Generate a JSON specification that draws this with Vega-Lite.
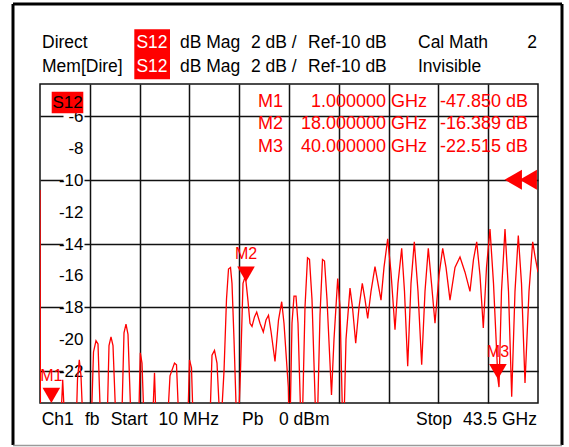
{
"$schema": "https://vega.github.io/schema/vega-lite/v6.json",
"width": 498, "height": 319,
"autosize": {"type": "none"},
"padding": {"left": 40, "top": 84, "right": 31, "bottom": 44},
"background": "white",
"config": {"font": "Liberation Sans", "view": {"stroke": "#111", "strokeWidth": 1.5}},
"datasets": {
"trace": [
{"f":0.010,"db":-10.65},{"f":0.062,"db":-30},{"f":1.0,"db":-47.85},{"f":1.713,"db":-27},{"f":1.992,"db":-22.55},{"f":2.281,"db":-27},
{"f":3.110,"db":-27},{"f":3.285,"db":-22.5},{"f":3.442,"db":-21.3},{"f":3.590,"db":-22.3},{"f":3.852,"db":-27},
{"f":4.420,"db":-27},{"f":4.682,"db":-20.8},{"f":4.900,"db":-20.1},{"f":5.075,"db":-20.3},{"f":5.381,"db":-27},
{"f":5.817,"db":-27},{"f":6.036,"db":-20.4},{"f":6.210,"db":-19.85},{"f":6.385,"db":-20.4},{"f":6.734,"db":-27},
{"f":7.084,"db":-27},{"f":7.346,"db":-19.6},{"f":7.520,"db":-19.05},{"f":7.695,"db":-19.7},{"f":8.044,"db":-27},
{"f":8.568,"db":-27},{"f":8.769,"db":-20.85},{"f":8.918,"db":-21.5},{"f":9.180,"db":-27},
{"f":9.747,"db":-27},{"f":10.009,"db":-22.1},{"f":10.227,"db":-27},
{"f":11.013,"db":-27},{"f":11.363,"db":-22.3},{"f":11.756,"db":-21.5},{"f":11.930,"db":-21.6},{"f":12.236,"db":-27},
{"f":12.847,"db":-27},{"f":13.066,"db":-21.3},{"f":13.240,"db":-21.8},{"f":13.459,"db":-27},
{"f":14.769,"db":-27},{"f":15.031,"db":-21.0},{"f":15.249,"db":-20.7},{"f":15.467,"db":-21.5},{"f":15.773,"db":-26},
{"f":16.079,"db":-22},{"f":16.297,"db":-17.5},{"f":16.472,"db":-15.6},{"f":16.646,"db":-15.5},{"f":16.777,"db":-16.5},{"f":16.952,"db":-20},{"f":17.257,"db":-27},
{"f":17.519,"db":-22},{"f":17.738,"db":-16.5},{"f":17.912,"db":-16.1},{"f":18.0,"db":-16.389},{"f":18.174,"db":-17.6},{"f":18.349,"db":-19.0},
{"f":18.524,"db":-19.2},{"f":18.742,"db":-18.6},{"f":18.934,"db":-18.3},{"f":19.222,"db":-19.0},{"f":19.511,"db":-19.55},{"f":19.746,"db":-18.8},
{"f":19.965,"db":-18.5},{"f":20.183,"db":-19.5},{"f":20.532,"db":-21.4},{"f":20.838,"db":-18.8},{"f":21.117,"db":-17.65},{"f":21.318,"db":-19},
{"f":21.694,"db":-23},{"f":21.799,"db":-27},{"f":22.017,"db":-19},{"f":22.192,"db":-17.3},{"f":22.366,"db":-17.3},{"f":22.541,"db":-19},
{"f":22.864,"db":-27},{"f":23.152,"db":-18},{"f":23.371,"db":-14.9},{"f":23.545,"db":-15.0},{"f":23.763,"db":-17.5},{"f":24.174,"db":-27},
{"f":24.462,"db":-18.5},{"f":24.680,"db":-15.0},{"f":24.855,"db":-15.1},{"f":25.073,"db":-17.5},{"f":25.466,"db":-23.5},{"f":25.685,"db":-20},
{"f":26.008,"db":-16.2},{"f":26.209,"db":-18},{"f":26.497,"db":-27},{"f":26.733,"db":-20},{"f":27.082,"db":-16.8},{"f":27.300,"db":-18},
{"f":27.580,"db":-20.25},{"f":27.868,"db":-18},{"f":28.156,"db":-16.5},{"f":28.392,"db":-17.5},{"f":28.628,"db":-18.7},{"f":28.916,"db":-17},
{"f":29.265,"db":-15.45},{"f":29.527,"db":-16.5},{"f":29.789,"db":-17.55},{"f":30.051,"db":-15.5},{"f":30.374,"db":-13.7},{"f":30.662,"db":-15.8},
{"f":31.012,"db":-19.4},{"f":31.274,"db":-16.5},{"f":31.597,"db":-14.3},{"f":31.841,"db":-17},{"f":32.121,"db":-21.7},{"f":32.409,"db":-16.5},
{"f":32.697,"db":-13.9},{"f":33.020,"db":-17},{"f":33.343,"db":-21.6},{"f":33.632,"db":-17},{"f":33.920,"db":-14.3},{"f":34.199,"db":-16.5},
{"f":34.505,"db":-19.0},{"f":34.854,"db":-16},{"f":35.178,"db":-14.3},{"f":35.466,"db":-15.5},{"f":35.815,"db":-17.55},{"f":36.252,"db":-15.5},
{"f":36.688,"db":-14.85},{"f":37.125,"db":-15.8},{"f":37.561,"db":-17.0},{"f":37.867,"db":-15},{"f":38.147,"db":-13.9},{"f":38.435,"db":-16},
{"f":38.723,"db":-19.3},{"f":39.003,"db":-15.5},{"f":39.308,"db":-13.1},{"f":39.614,"db":-16.5},{"f":40.0,"db":-22.515},{"f":40.094,"db":-23.0},
{"f":40.312,"db":-17},{"f":40.618,"db":-13.1},{"f":40.924,"db":-17},{"f":41.203,"db":-23.6},{"f":41.491,"db":-17},{"f":41.780,"db":-13.5},
{"f":42.059,"db":-16.5},{"f":42.365,"db":-22.75},{"f":42.714,"db":-17},{"f":43.037,"db":-13.9},{"f":43.238,"db":-14.8},{"f":43.5,"db":-15.8}
],
"markers": [{"m":"M1","f":1.0,"v":-47.85},{"m":"M2","f":18.0,"v":-16.389},{"m":"M3","f":40.0,"v":-22.515}],
"ticks": [{"t":-6,"s":"-6"},{"t":-8,"s":"-8"},{"t":-10,"s":"-10"},{"t":-12,"s":"-12"},{"t":-14,"s":"-14"},{"t":-16,"s":"-16"},{"t":-18,"s":"-18"},{"t":-20,"s":"-20"},{"t":-22,"s":"-22"}]
},
"layer": [
{"layer": [
 {"data": {"name": "ticks"}, "mark": {"type": "text", "align": "right", "baseline": "middle", "fontSize": 17, "color": "#000", "dy": 1},
  "encoding": {"x": {"datum": 3.809, "type": "quantitative"}, "y": {"field": "t", "type": "quantitative"}, "text": {"field": "s"}}},
 {"data": {"name": "trace"},
  "mark": {"type": "line", "color": "#ff0000", "strokeWidth": 1.3, "clip": true},
  "encoding": {
   "x": {"field": "f", "type": "quantitative", "scale": {"domain": [0.01, 43.5], "nice": false, "zero": false},
         "axis": {"values": [4.359, 8.708, 13.057, 17.406, 21.755, 26.104, 30.453, 34.802, 39.151], "grid": true, "gridColor": "#111", "gridWidth": 1.5, "domain": false, "ticks": false, "labels": false, "title": null}},
   "y": {"field": "db", "type": "quantitative", "scale": {"domain": [-24, -4], "nice": false, "zero": false},
         "axis": {"values": [-6, -8, -10, -12, -14, -16, -18, -20, -22], "grid": true, "gridColor": "#111", "gridWidth": 1.5, "gridDash": [23, 21, 1000], "domain": false, "ticks": false, "labels": false, "title": null}}
  }},
 {"data": {"values": [{}]}, "mark": {"type": "rect", "color": "#ff0000"},
  "encoding": {"x": {"datum": 1.032, "type": "quantitative"}, "x2": {"datum": 3.791}, "y": {"datum": -4.483, "type": "quantitative"}, "y2": {"datum": -5.837}}},
 {"data": {"values": [{}]}, "mark": {"type": "text", "align": "center", "baseline": "middle", "fontSize": 17, "color": "#000"},
  "encoding": {"x": {"datum": 2.412, "type": "quantitative"}, "y": {"datum": -5.16, "type": "quantitative"}, "text": {"value": "S12"}}},
 {"data": {"values": [{}]}, "mark": {"type": "text", "align": "right", "baseline": "middle", "fontSize": 18, "color": "#ff0000", "lineHeight": 22.5},
  "encoding": {"x": {"datum": 21.231, "type": "quantitative"}, "y": {"datum": -5.11, "type": "quantitative"}, "text": {"value": ["M1", "M2", "M3"]}}},
 {"data": {"values": [{}]}, "mark": {"type": "text", "align": "right", "baseline": "middle", "fontSize": 18, "color": "#ff0000", "lineHeight": 22.5},
  "encoding": {"x": {"datum": 33.806, "type": "quantitative"}, "y": {"datum": -5.11, "type": "quantitative"}, "text": {"value": ["1.000000 GHz", "18.000000 GHz", "40.000000 GHz"]}}},
 {"data": {"values": [{}]}, "mark": {"type": "text", "align": "right", "baseline": "middle", "fontSize": 18, "color": "#ff0000", "lineHeight": 22.5},
  "encoding": {"x": {"datum": 42.627, "type": "quantitative"}, "y": {"datum": -5.11, "type": "quantitative"}, "text": {"value": ["-47.850 dB", "-16.389 dB", "-22.515 dB"]}}},
 {"data": {"values": [{}]}, "mark": {"type": "point", "shape": "triangle-left", "filled": true, "color": "#ff0000", "opacity": 1, "size": 400},
  "encoding": {"x": {"datum": 41.343, "type": "quantitative"}, "y": {"datum": -10, "type": "quantitative"}}},
 {"data": {"values": [{}]}, "mark": {"type": "point", "shape": "triangle-left", "filled": true, "color": "#ff0000", "opacity": 1, "size": 400},
  "encoding": {"x": {"datum": 42.653, "type": "quantitative"}, "y": {"datum": -10, "type": "quantitative"}}},
 {"data": {"values": [{}]}, "mark": {"type": "rect", "color": "#ff0000"},
  "encoding": {"x": {"datum": 8.245, "type": "quantitative"}, "x2": {"datum": 11.363}, "y": {"datum": -0.57, "type": "quantitative"}, "y2": {"datum": -3.705}}},
 {"data": {"values": [{}]}, "mark": {"type": "text", "align": "left", "baseline": "middle", "fontSize": 17.5, "color": "#000", "lineHeight": 24},
  "encoding": {"x": {"datum": 0.185, "type": "quantitative"}, "y": {"datum": -1.411, "type": "quantitative"}, "text": {"value": ["Direct", "Mem[Dire]"]}}},
 {"data": {"values": [{}]}, "mark": {"type": "text", "align": "center", "baseline": "middle", "fontSize": 17.5, "color": "#fff", "lineHeight": 24},
  "encoding": {"x": {"datum": 9.791, "type": "quantitative"}, "y": {"datum": -1.411, "type": "quantitative"}, "text": {"value": ["S12", "S12"]}}},
 {"data": {"values": [{}]}, "mark": {"type": "text", "align": "left", "baseline": "middle", "fontSize": 17.5, "color": "#000", "lineHeight": 24},
  "encoding": {"x": {"datum": 12.236, "type": "quantitative"}, "y": {"datum": -1.411, "type": "quantitative"}, "text": {"value": ["dB Mag", "dB Mag"]}}},
 {"data": {"values": [{}]}, "mark": {"type": "text", "align": "left", "baseline": "middle", "fontSize": 17.5, "color": "#000", "lineHeight": 24},
  "encoding": {"x": {"datum": 18.436, "type": "quantitative"}, "y": {"datum": -1.411, "type": "quantitative"}, "text": {"value": ["2 dB /", "2 dB /"]}}},
 {"data": {"values": [{}]}, "mark": {"type": "text", "align": "left", "baseline": "middle", "fontSize": 17.5, "color": "#000", "lineHeight": 24},
  "encoding": {"x": {"datum": 23.414, "type": "quantitative"}, "y": {"datum": -1.411, "type": "quantitative"}, "text": {"value": ["Ref-10 dB", "Ref-10 dB"]}}},
 {"data": {"values": [{}]}, "mark": {"type": "text", "align": "left", "baseline": "middle", "fontSize": 17.5, "color": "#000", "lineHeight": 24},
  "encoding": {"x": {"datum": 33.02, "type": "quantitative"}, "y": {"datum": -1.411, "type": "quantitative"}, "text": {"value": ["Cal Math", "Invisible"]}}},
 {"data": {"values": [{}]}, "mark": {"type": "text", "align": "right", "baseline": "middle", "fontSize": 17.5, "color": "#000"},
  "encoding": {"x": {"datum": 43.413, "type": "quantitative"}, "y": {"datum": -1.411, "type": "quantitative"}, "text": {"value": "2"}}},
 {"data": {"values": [{}]}, "mark": {"type": "text", "align": "left", "baseline": "middle", "fontSize": 17.5, "color": "#000"},
  "encoding": {"x": {"datum": 0.158, "type": "quantitative"}, "y": {"datum": -25.066, "type": "quantitative"}, "text": {"value": "Ch1"}}},
 {"data": {"values": [{}]}, "mark": {"type": "text", "align": "left", "baseline": "middle", "fontSize": 17.5, "color": "#000"},
  "encoding": {"x": {"datum": 3.94, "type": "quantitative"}, "y": {"datum": -25.066, "type": "quantitative"}, "text": {"value": "fb"}}},
 {"data": {"values": [{}]}, "mark": {"type": "text", "align": "left", "baseline": "middle", "fontSize": 17.5, "color": "#000"},
  "encoding": {"x": {"datum": 6.184, "type": "quantitative"}, "y": {"datum": -25.066, "type": "quantitative"}, "text": {"value": "Start"}}},
 {"data": {"values": [{}]}, "mark": {"type": "text", "align": "left", "baseline": "middle", "fontSize": 17.5, "color": "#000"},
  "encoding": {"x": {"datum": 10.367, "type": "quantitative"}, "y": {"datum": -25.066, "type": "quantitative"}, "text": {"value": "10 MHz"}}},
 {"data": {"values": [{}]}, "mark": {"type": "text", "align": "left", "baseline": "middle", "fontSize": 17.5, "color": "#000"},
  "encoding": {"x": {"datum": 17.65, "type": "quantitative"}, "y": {"datum": -25.066, "type": "quantitative"}, "text": {"value": "Pb"}}},
 {"data": {"values": [{}]}, "mark": {"type": "text", "align": "left", "baseline": "middle", "fontSize": 17.5, "color": "#000"},
  "encoding": {"x": {"datum": 20.882, "type": "quantitative"}, "y": {"datum": -25.066, "type": "quantitative"}, "text": {"value": "0 dBm"}}},
 {"data": {"values": [{}]}, "mark": {"type": "text", "align": "left", "baseline": "middle", "fontSize": 17.5, "color": "#000"},
  "encoding": {"x": {"datum": 32.846, "type": "quantitative"}, "y": {"datum": -25.066, "type": "quantitative"}, "text": {"value": "Stop"}}},
 {"data": {"values": [{}]}, "mark": {"type": "text", "align": "right", "baseline": "middle", "fontSize": 17.5, "color": "#000"},
  "encoding": {"x": {"datum": 43.413, "type": "quantitative"}, "y": {"datum": -25.066, "type": "quantitative"}, "text": {"value": "43.5 GHz"}}},
 {"data": {"values": [{}]}, "mark": {"type": "rule", "color": "#000", "strokeWidth": 3},
  "encoding": {"x": {"datum": -2.348, "type": "quantitative"}, "y": {"datum": 1.016, "type": "quantitative"}, "y2": {"datum": -26.633}}},
 {"data": {"values": [{}]}, "mark": {"type": "rule", "color": "#000", "strokeWidth": 3},
  "encoding": {"x": {"datum": 45.596, "type": "quantitative"}, "y": {"datum": 1.016, "type": "quantitative"}, "y2": {"datum": -26.633}}},
 {"data": {"values": [{}]}, "mark": {"type": "rule", "color": "#000", "strokeWidth": 3},
  "encoding": {"x": {"datum": -2.348, "type": "quantitative"}, "x2": {"datum": 45.596}, "y": {"datum": 1.016, "type": "quantitative"}}},
 {"data": {"values": [{}]}, "mark": {"type": "rule", "color": "#9a9a9a", "strokeWidth": 1.5},
  "encoding": {"x": {"datum": -2.348, "type": "quantitative"}, "x2": {"datum": 45.596}, "y": {"datum": -26.665, "type": "quantitative"}}}
]},
{"data": {"name": "markers"},
 "layer": [
 {"mark": {"type": "point", "shape": "triangle-down", "filled": true, "color": "#ff0000", "opacity": 1, "size": 310, "yOffset": -7.6},
  "encoding": {"x": {"field": "f", "type": "quantitative"},
   "y": {"field": "v", "type": "quantitative", "scale": {"domain": [-24, -4], "clamp": true, "nice": false, "zero": false}, "axis": null}}},
 {"mark": {"type": "text", "align": "center", "baseline": "middle", "fontSize": 16, "color": "#ff0000", "dy": -27.5},
  "encoding": {"x": {"field": "f", "type": "quantitative"},
   "y": {"field": "v", "type": "quantitative", "scale": {"domain": [-24, -4], "clamp": true, "nice": false, "zero": false}, "axis": null},
   "text": {"field": "m"}}}
 ]}
],
"resolve": {"scale": {"y": "independent"}}
}
